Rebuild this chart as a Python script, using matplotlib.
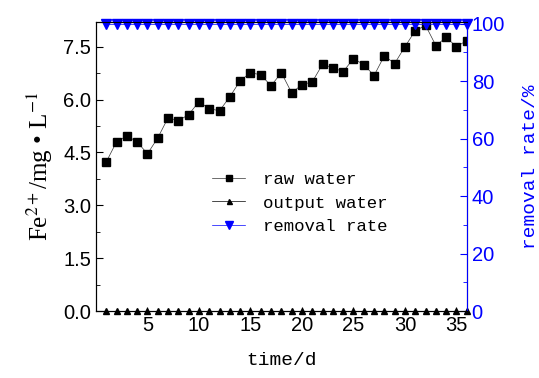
import matplotlib.pyplot as plt
from matplotlib.ticker import MultipleLocator

plt.rcParams['font.family'] = 'Liberation Sans'
plt.rcParams['mathtext.fontset'] = 'stix'

days = [1, 2, 3, 4, 5, 6, 7, 8, 9, 10, 11, 12, 13, 14, 15, 16, 17, 18,
        19, 20, 21, 22, 23, 24, 25, 26, 27, 28, 29, 30, 31, 32, 33, 34, 35, 36]
raw_water = [4.23, 4.80, 4.97, 4.80, 4.46, 4.91, 5.48, 5.40, 5.57, 5.94, 5.74, 5.68,
             6.08, 6.53, 6.76, 6.70, 6.39, 6.76, 6.19, 6.42, 6.50, 7.00, 6.90, 6.79,
             7.16, 6.99, 6.68, 7.24, 7.02, 7.50, 7.95, 8.10, 7.53, 7.76, 7.50, 7.67]
output_water = [0, 0, 0, 0, 0, 0, 0, 0, 0, 0, 0, 0, 0, 0, 0, 0, 0, 0,
                0, 0, 0, 0, 0, 0, 0, 0, 0, 0, 0, 0, 0, 0, 0, 0, 0, 0]
removal_rate = [100, 100, 100, 100, 100, 100, 100, 100, 100, 100, 100, 100,
                100, 100, 100, 100, 100, 100, 100, 100, 100, 100, 100, 100,
                100, 100, 100, 100, 100, 100, 100, 100, 100, 100, 100, 100]

mono = 'Liberation Mono'
blue = '#0000ff'

fig = plt.figure(figsize=(5.39, 3.78), dpi=100)
ax = fig.add_axes([0.178, 0.177, 0.688, 0.765])
ax2 = ax.twinx()

l1, = ax.plot(days, raw_water, '-', color='#333333', lw=0.5, marker='s', ms=5.5,
              mfc='black', mec='black', label='raw water')
l2, = ax.plot(days, output_water, '-', color='black', lw=0.5, marker='^', ms=4.5,
              mfc='black', mec='black', label='output water', clip_on=False, zorder=5)
l3, = ax2.plot(days, removal_rate, '-', color=blue, lw=0.5, marker='v', ms=7.5,
               mfc=blue, mec=blue, label='removal rate', clip_on=False)

ax.set_xlim(0, 36)
ax.set_ylim(0, 8.2)
ax2.set_ylim(0, 100.6)

ax.set_xticks([5, 10, 15, 20, 25, 30, 35])
ax.yaxis.set_major_locator(MultipleLocator(1.5))
ax.yaxis.set_minor_locator(MultipleLocator(0.75))
ax2.yaxis.set_major_locator(MultipleLocator(20))
ax2.yaxis.set_minor_locator(MultipleLocator(10))

ax.tick_params(axis='both', labelsize=14.5)
ax2.tick_params(axis='y', labelsize=14.5, labelcolor=blue)

ax.tick_params(axis='y', which='both', direction='in', right=False)
ax.tick_params(axis='y', which='major', length=5)
ax.tick_params(axis='y', which='minor', length=3)
ax.tick_params(axis='x', direction='in', length=3, top=False)
ax2.tick_params(axis='y', which='both', direction='in', colors=blue)
ax2.tick_params(axis='y', which='major', length=5)
ax2.tick_params(axis='y', which='minor', length=3)
ax2.spines['right'].set_color(blue)

ax.set_xlabel('time/d', fontfamily=mono, fontsize=14, labelpad=12)
ax.set_ylabel(r'Fe$^{2+}$/mg • L$^{-1}$', fontfamily='Liberation Serif', fontsize=18, labelpad=6)
ax2.set_ylabel('removal rate/%', fontfamily=mono, fontsize=14, color=blue, labelpad=12)

leg = ax.legend(handles=[l1, l2, l3], loc='center', bbox_to_anchor=(0.55, 0.374),
                frameon=False, prop={'family': mono, 'size': 12.5}, markerscale=0.8,
                handlelength=1.9, handletextpad=1.0, labelspacing=0.5)

fig.savefig('out.png', dpi=100)
